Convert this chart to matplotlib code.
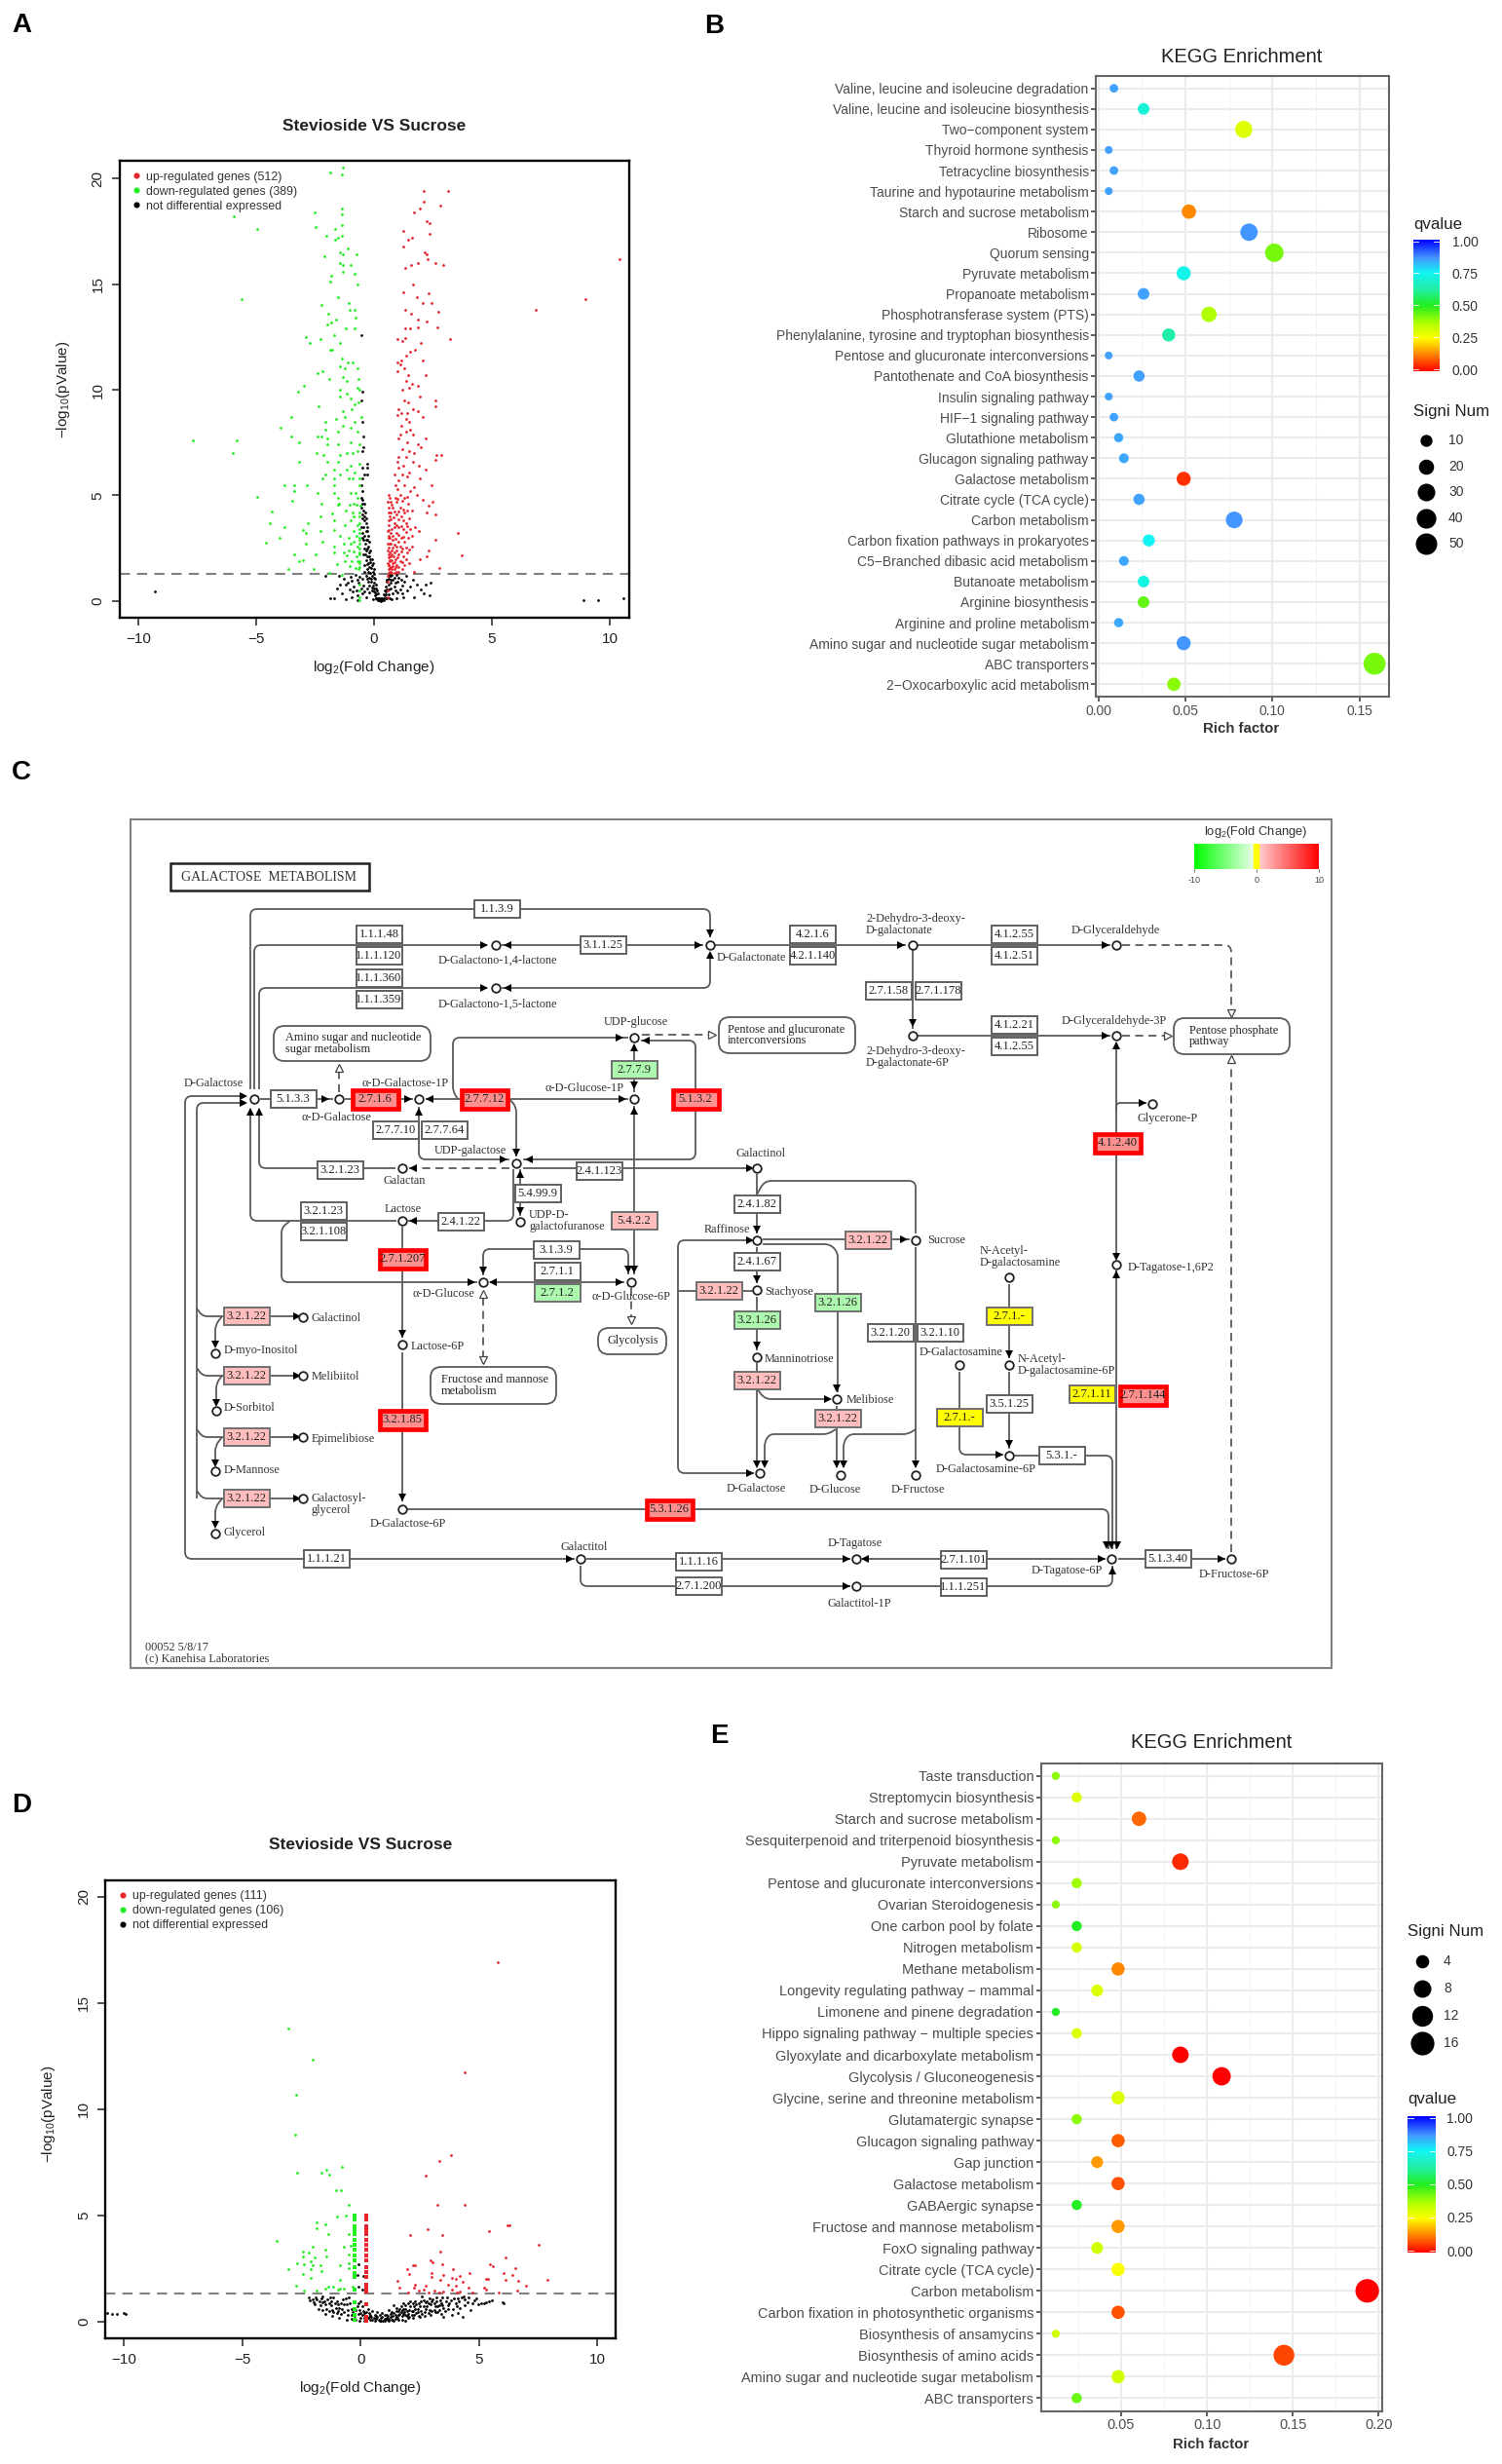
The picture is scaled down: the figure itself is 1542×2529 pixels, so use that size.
import matplotlib
matplotlib.use('Agg')
import matplotlib.pyplot as plt
import matplotlib.patches as patches
from matplotlib.path import Path
from matplotlib.colors import LinearSegmentedColormap
import numpy as np

plt.rcParams['font.family'] = ['Liberation Sans', 'DejaVu Sans']
plt.rcParams['mathtext.default'] = 'regular'

W, H = 1542, 2529

# ---- panel A volcano (log2 fold change, -log10 p)
a_up = [(2.11,19.4),(3.13,19.4),(2.11,18.9),(1.93,18.6),(2.83,18.7),(1.7,18.4),(2.24,18.0),(2.35,17.9),(1.25,17.5),(2.35,17.4),
 (1.61,17.2),(1.43,17.1),(1.25,16.8),(2.15,16.5),(2.24,16.4),(2.27,16.2),(1.88,16.0),(2.6,16.0),(2.92,15.9),(1.56,15.9),
 (1.31,15.75),(10.4,16.2),(1.65,15.0),(1.25,14.6),(2.33,14.55),(1.83,14.4),(2.06,14.1),(2.45,14.1),(1.34,13.8),(6.86,13.8),
 (8.95,14.3),(1.56,13.6),(2.74,13.7),(1.88,13.3),(2.24,13.25),(1.34,12.9),(1.52,12.9),(1.84,12.95),(2.69,12.95),(0.98,12.4),
 (1.31,12.45),(3.24,12.4),(1.2,12.3),(2.0,12.2),(1.55,11.8),(1.75,11.9),(1.35,11.6),(1.15,11.4),(2.05,11.4),(0.98,11.3),
 (1.1,11.2),(1.3,11.0),(1.0,10.9),(2.2,10.7),(1.45,10.7),(1.35,10.4),(1.6,10.3),(1.85,10.2),(1.5,10.1),(1.2,10.0),
 (1.95,9.7),(2.6,9.5),(1.3,9.5),(1.45,9.4),(2.6,9.2),(1.05,9.1),(1.65,9.1),(1.85,9.0),(1.15,8.9),(1.4,8.9),
 (0.98,8.8),(2.05,8.7),(1.35,8.6),(1.5,8.5),(1.15,8.3),(1.55,8.1),(1.35,8.0),(1.1,7.9),(1.65,7.9),(1.05,7.7),
 (2.2,7.7),(1.4,7.5),(1.85,7.4),(2.0,7.3),(1.2,7.2),(1.5,7.1),(1.7,7.0),(2.65,6.9),(2.85,6.9),(1.05,6.8),
 (1.35,6.8),(2.6,6.7),(0.98,6.6),(1.65,6.6),(1.9,6.4),(1.25,6.4),(1.05,6.3),(1.5,6.1),(2.2,6.2),(0.85,6.0),
 (1.2,6.0),(1.4,5.9),(1.95,5.8),(1.05,5.7),(0.9,5.5),(1.3,5.5),(1.7,5.4),(2.45,5.5),(1.0,5.3),(1.55,5.2),
 (0.6,5.0),(0.65,4.9),(1.1,5.0),(1.8,5.0),(1.3,4.9),(2.05,4.8),(2.5,4.7),(0.95,4.7),(1.45,4.6),(2.3,4.5),
 (0.6,4.4),(0.8,4.4),(1.1,4.4),(1.6,4.3),(1.3,4.2),(2.25,4.2),(0.95,4.1),(2.6,4.1),(0.65,4.0),(1.15,4.0),
 (1.5,3.9),(0.85,3.7),(1.35,3.7),(0.6,3.6),(1.05,3.5),(1.75,3.5),(0.75,3.4),(1.25,3.4),(1.55,3.4),(1.9,3.3),
 (0.95,3.2),(0.6,3.1),(1.15,3.0),(1.45,3.0),(3.55,3.2),(0.8,2.9),(2.6,2.9),(1.05,2.8),(1.3,2.8),(0.65,2.7),
 (0.95,2.6),(1.6,2.6),(1.2,2.5),(2.3,2.4),(0.75,2.4),(0.85,2.3),(1.4,2.3),(0.6,2.2),(1.05,2.2),(0.7,2.1),
 (1.25,2.1),(3.7,2.15),(2.25,2.1),(0.9,2.0),(1.95,2.0),(0.65,1.9),(1.1,1.9),(0.8,1.8),(0.95,1.7),(1.5,1.8),
 (0.7,1.6),(0.6,1.5),(0.85,1.5),(1.2,1.5),(2.75,1.55),(0.65,1.4),(0.75,1.35),(0.95,1.4),(1.7,1.4),(0.58,0.9),
 (0.58,0.5),(0.58,0.2),(0.58,1.2),(0.58,3.3),(0.58,2.7),(0.58,2.4),(0.58,1.8),(0.58,4.7),(0.62,3.0),(0.62,1.7),
 (0.7,4.7),(0.75,4.55),(0.9,4.9),(1.0,4.85),(1.2,4.75),(1.4,4.95),(0.72,4.2),(0.88,4.25),(1.02,4.25),(1.22,4.35),
 (1.4,4.3),(0.7,3.85),(0.82,3.95),(1.02,3.85),(1.25,3.8),(1.42,3.55),(0.62,3.35),(0.85,3.5),(0.95,3.6),(1.15,3.55),
 (1.35,3.25),(0.7,3.2),(0.8,3.1),(1.05,3.15),(1.25,3.05),(1.6,3.1),(0.68,3.0),(0.92,2.95),(1.35,2.55),(0.72,2.7),
 (0.85,2.65),(1.1,2.6),(1.5,2.45),(0.62,2.55),(0.78,2.55),(0.95,2.4),(1.15,2.35),(0.66,2.3),(0.75,2.2),(0.82,2.1),
 (1.0,2.05),(1.35,2.0),(0.6,2.05),(0.68,1.95),(0.75,1.95),(0.88,1.85),(1.2,1.85),(0.62,1.7),(0.78,1.65),(0.9,1.6),
 (1.05,1.6),(1.3,1.7),(0.66,1.55),(0.74,1.5),(0.6,1.35),(0.7,1.4),(0.85,1.35),(1.05,1.4),(0.62,3.8),(0.62,4.2)]

a_down = [(-1.34,20.5),(-1.84,20.3),(-1.38,20.2),(-5.94,18.2),(-2.52,18.4),(-1.38,18.6),(-1.38,18.3),(-1.38,17.8),(-2.47,17.7),(-1.65,17.6),
 (-4.96,17.6),(-1.38,17.3),(-2.02,17.3),(-1.52,17.2),(-1.67,17.1),(-1.13,16.7),(-1.45,16.5),(-1.34,16.4),(-0.75,16.4),(-2.09,16.3),
 (-1.43,16.0),(-0.98,15.9),(-1.34,15.9),(-1.83,15.4),(-1.31,15.6),(-0.81,15.5),(-1.88,15.1),(-0.72,15.0),(-2.24,14.0),(-1.52,14.4),
 (-5.64,14.3),(-1.07,14.1),(-1.93,13.6),(-1.02,13.8),(-0.84,13.8),(-0.8,13.4),(-1.62,13.3),(-1.8,13.2),(-1.97,13.1),(-1.2,12.9),
 (-0.84,12.9),(-2.88,12.5),(-2.74,12.2),(-1.7,12.6),(-2.27,12.4),(-1.43,12.2),(-1.88,11.9),(-1.79,11.9),(-1.38,11.5),(-1.13,11.3),
 (-0.9,11.3),(-1.43,11.1),(-1.25,11.0),(-0.72,11.0),(-2.4,10.8),(-2.2,10.9),(-1.9,10.5),(-1.34,10.6),(-1.16,10.4),(-0.66,10.5),
 (-2.97,10.2),(-3.22,9.9),(-0.7,10.1),(-0.63,10.0),(-1.43,10.0),(-1.16,9.8),(-1.43,9.7),(-0.98,9.6),(-2.34,9.2),(-0.66,9.4),
 (-0.81,9.3),(-0.95,9.1),(-1.34,9.0),(-3.5,8.7),(-2.05,8.5),(-1.61,8.6),(-1.25,8.7),(-0.81,8.5),(-0.54,8.7),(-3.98,8.2),
 (-2.05,8.1),(-2.4,7.8),(-0.98,8.2),(-1.31,8.3),(-3.5,7.8),(-2.24,7.8),(-1.97,7.7),(-1.52,8.0),(-0.72,8.0),(-7.7,7.6),
 (-5.84,7.6),(-3.2,7.5),(-1.97,7.4),(-1.52,7.4),(-0.98,7.5),(-0.63,7.4),(-6.0,7.0),(-2.45,7.0),(-2.14,6.9),(-1.43,6.9),
 (-0.9,7.0),(-1.16,7.0),(-0.7,7.1),(-3.2,6.6),(-1.97,6.6),(-1.52,6.6),(-0.63,6.5),(-0.98,6.4),(-1.16,6.2),(-1.7,6.2),
 (-2.05,6.0),(-0.81,6.1),(-1.43,6.0),(-2.2,5.8),(-1.7,5.8),(-0.63,5.8),(-0.9,5.8),(-1.07,5.8),(-3.8,5.5),(-3.4,5.5),
 (-2.84,5.5),(-1.7,5.5),(-0.63,5.5),(-3.38,5.2),(-2.4,5.1),(-1.7,5.1),(-0.98,5.1),(-0.8,5.1),(-4.97,4.95),(-1.52,4.9),
 (-3.47,4.75),(-1.48,4.6),(-0.75,4.55),(-1.02,4.55),(-1.52,4.55),(-2.25,4.6),(-4.35,4.25),(-2.27,4.0),(-1.79,4.15),(-0.9,4.2),
 (-0.63,4.2),(-4.42,3.7),(-2.8,3.7),(-1.7,3.8),(-0.98,3.8),(-3.8,3.5),(-3.0,3.35),(-2.27,3.3),(-1.7,3.35),(-0.63,3.4),
 (-4.0,3.0),(-2.9,3.2),(-1.45,3.1),(-1.07,3.0),(-0.63,3.0),(-4.6,2.75),(-2.9,2.7),(-2.2,2.8),(-1.7,2.6),(-0.98,2.7),
 (-0.63,2.5),(-3.4,2.2),(-3.2,1.9),(-3.0,1.95),(-2.5,2.2),(-1.7,2.3),(-1.07,2.4),(-0.63,2.2),(-3.65,1.5),(-2.55,1.5),
 (-1.9,1.35),(-1.25,1.9),(-0.63,1.8),(-0.67,1.5),(-1.36,1.25),(-0.6,1.9),(-0.6,3.7),(-0.6,2.9),(-0.58,4.5),(-0.6,0.8),
 (-0.6,0.5),(-0.6,0.2),(-0.6,0.05),(-0.62,4.0),(-0.6,3.2),(-0.6,2.7),(-0.6,2.3),(-0.62,1.6),(-0.85,4.6),(-0.72,4.9),
 (-0.85,4.0),(-1.2,4.3),(-0.72,3.6),(-0.85,3.3),(-1.25,3.6),(-0.75,3.1),(-0.85,2.8),(-1.3,2.7),(-0.72,2.6),(-0.88,2.35),
 (-1.15,2.15),(-0.75,2.1),(-0.95,1.9),(-0.7,1.9),(-1.05,1.65),(-0.78,1.55),(-1.55,1.75),(-1.3,2.3)]

a_none = [(-9.3,0.45),(8.9,0.05),(9.5,0.03),(10.6,0.12),(-0.55,12.6),(-0.5,9.9),(-0.55,9.5),(-0.5,8.5),(-0.45,7.8),(-0.45,7.3),
 (-0.5,7.1),(-0.3,6.5),(-0.3,6.3),(-0.3,6.0),(-0.4,6.0),(-0.5,6.3),(-0.5,5.8),(-0.55,5.5),(-0.5,5.2),(-0.55,4.9),
 (-0.5,4.6),(-0.45,4.3),(-0.4,4.0),(-0.5,3.9),(-0.35,3.7),(-0.45,3.5),(-0.3,3.3),(-0.4,3.1),(-0.28,2.9),(-0.38,2.7),
 (-0.25,2.6),(-0.33,2.4),(-0.2,2.3),(-0.3,2.1),(-0.15,2.0),(-0.25,1.8),(-0.1,1.7),(-0.2,1.6),(-0.05,1.4),(-0.3,1.5),
 (-0.45,2.2),(-0.5,3.0),(-0.42,1.7),(-0.35,1.2),(-0.2,1.1),(-0.1,1.2),(-0.02,1.1),(-0.25,0.9),(-0.12,0.9),(-0.02,0.85),
 (0.0,0.6),(0.05,0.4),(0.1,0.3),(0.15,0.15),(0.2,0.05),(0.25,0.02),(0.3,0.05),(0.35,0.15),(0.4,0.3),(0.45,0.5),
 (0.5,0.7),(0.55,1.0),(0.6,1.2),(0.08,0.15),(0.12,0.08),(0.18,0.02),(0.3,0.01),(0.38,0.08),(0.42,0.12),(0.5,0.3),
 (0.55,0.55),(0.62,0.8),(0.7,1.0),(0.75,1.25),(0.85,1.1),(0.95,1.25),(0.7,0.6),(0.85,0.7),(1.0,0.9),(0.8,0.35),
 (1.1,0.55),(1.25,0.2),(1.2,0.75),(1.65,1.0),(1.8,0.8),(2.0,0.55),(2.2,0.8),(2.35,0.25),(2.4,0.85),(1.7,0.2),
 (0.75,0.1),(0.95,0.15),(-0.1,0.5),(-0.2,0.4),(-0.3,0.6),(-0.35,0.2),(-0.45,0.75),(-0.5,0.35),(-0.7,1.0),(-0.75,0.5),
 (-0.85,0.7),(-0.95,0.95),(-1.05,0.55),(-1.2,0.8),(-1.35,0.35),(-1.45,0.8),(-1.55,0.6),(-1.7,0.15),(-1.85,0.15),(-1.2,0.1),
 (-0.95,0.2),(-0.72,0.05),(-2.05,1.2),(-1.5,1.2),(-0.8,1.25),(1.4,0.5),(1.55,0.7),(2.1,0.35),(0.62,0.3),(-0.05,0.1),
 (-0.48,4.8),(-0.42,4.6),(-0.52,4.4),(-0.38,4.2),(-0.48,4.1),(-0.32,3.9),(-0.42,3.8),(-0.28,3.5),(-0.52,3.5),(-0.35,3.3),
 (-0.48,3.2),(-0.25,3.1),(-0.33,2.9),(-0.45,2.9),(-0.22,2.8),(-0.42,2.5),(-0.28,2.5),(-0.15,2.4),(-0.38,2.2),(-0.22,2.1),
 (-0.1,2.0),(-0.35,1.95),(-0.18,1.85),(-0.05,1.8),(-0.3,1.75),(-0.12,1.55),(0.0,1.5),(-0.25,1.4),(-0.15,1.35),(0.02,1.3),
 (-0.4,1.4),(-0.3,1.05),(-0.12,1.05),(0.05,1.05),(-0.2,0.75),(-0.05,0.75),(0.08,0.8),(-0.1,0.65),(0.02,0.45),(0.07,0.6),
 (0.12,0.5),(0.17,0.35),(0.22,0.15),(0.04,0.25),(0.1,0.12),(0.25,0.08),(0.35,0.06),(0.45,0.25),(0.5,0.45),(0.52,0.9),
 (0.6,1.05),(0.65,1.25),(0.62,0.55),(0.7,0.85),(0.48,0.15),(0.4,0.05),(0.3,0.12),(0.2,0.12),(0.55,0.15),(0.65,0.15),
 (0.72,1.2),(0.8,1.0),(0.9,0.85),(0.9,0.5),(1.05,1.1),(1.15,1.0),(1.3,0.9),(1.35,1.2),(1.0,0.4),(1.2,0.35),
 (-0.4,0.45),(-0.55,0.6),(-0.65,0.85),(-0.5,1.05),(-0.7,0.25),(-0.9,0.45),(-1.1,0.85),(-1.3,1.05),(-0.6,1.15),(-1.0,1.15)]

# ---- panel D volcano
d_up = [(5.8,16.9),(4.38,11.75),(3.82,7.85),(3.34,7.55),(2.74,6.85),(3.25,5.5),(4.4,5.5),(6.2,4.55),(6.27,4.55),(5.4,4.25),
 (2.83,4.35),(2.1,4.05),(3.44,4.05),(7.5,3.6),(3.38,3.3),(6.1,3.0),(2.94,2.9),(3.05,2.8),(2.2,2.65),(2.3,2.65),
 (3.43,2.7),(5.45,2.7),(5.6,2.6),(6.55,2.5),(1.95,2.45),(3.9,2.45),(2.03,2.25),(3.0,2.3),(4.6,2.3),(6.05,2.3),
 (6.4,2.2),(3.5,2.2),(4.2,2.15),(2.98,2.1),(3.85,2.05),(4.0,2.0),(3.35,1.95),(5.3,2.0),(5.36,2.0),(7.9,1.95),
 (1.57,1.9),(6.1,1.95),(6.65,1.9),(4.3,1.85),(2.3,1.75),(2.75,1.7),(3.7,1.75),(4.0,1.7),(7.0,1.7),(1.65,1.6),
 (2.25,1.6),(4.55,1.6),(5.2,1.6),(2.45,1.45),(2.65,1.5),(3.1,1.45),(3.3,1.35),(3.85,1.5),(4.2,1.4),(5.3,1.5),
 (6.6,1.45),(5.85,1.35),(2.0,1.35),(2.85,1.35),(3.5,1.4),(4.05,1.35),(4.7,1.35)]
d_up_edge_x = 0.25
d_up_edge_y = [5.0,4.8,4.5,4.3,4.1,3.85,3.6,3.4,3.1,2.9,2.55,2.35,2.1,1.75,1.55,1.4,0.8,0.2,0.05]

d_down = [(-3.06,13.8),(-2.04,12.35),(-2.75,10.7),(-2.77,8.8),(-2.68,7.0),(-1.68,7.03),(-1.45,7.14),(-1.32,6.92),(-0.79,7.3),(-1.05,6.2),
 (-0.84,6.2),(-0.52,5.5),(-1.02,4.95),(-0.64,5.0),(-1.86,4.66),(-1.5,4.57),(-1.86,4.4),(-0.52,4.13),(-1.36,4.13),(-3.56,3.78),
 (-0.7,3.52),(-2.04,3.52),(-0.43,3.56),(-2.43,3.3),(-2.2,3.25),(-1.5,3.4),(-0.52,3.14),(-3.07,2.48),(-2.43,3.05),(-1.95,3.0),
 (-1.47,3.05),(-2.13,2.85),(-2.4,2.7),(-2.68,2.75),(-2.04,2.65),(-1.72,2.65),(-0.88,2.65),(-0.52,2.75),(-0.52,2.5),(-2.13,2.47),
 (-1.68,2.37),(-2.43,2.25),(-2.13,2.05),(-0.88,1.98),(-2.75,1.7),(-1.36,1.65),(-1.15,1.65),(-0.88,1.55),(-0.97,1.48),(-0.25,1.55),
 (-2.38,1.45),(-1.5,1.55),(-1.86,1.45),(-0.7,1.55),(-0.34,1.65)]
d_down_edge_x = -0.28
d_down_edge_y = [5.0,4.8,4.5,4.3,4.1,3.85,3.6,3.4,3.1,2.9,2.55,2.3,2.1,1.5,0.9,0.6,0.3,0.1]

d_none = [(-10.7,0.4),(-10.5,0.35),(-10.3,0.35),(-10.0,0.4),(-9.95,0.35),(-0.1,2.7),(-0.15,2.2),(0.1,2.15),(-0.1,1.65),(0.05,1.5),
 (-2.2,1.15),(-2.05,1.05),(-2.0,0.9),(-1.9,1.15),(-1.75,0.95),(-1.6,1.2),(-1.5,0.8),(-1.4,1.05),(-1.25,0.75),(-1.15,1.15),
 (-1.0,0.95),(-0.9,0.65),(-0.75,1.05),(-0.6,0.8),(-0.5,1.15),(-0.4,0.6),(-0.3,0.95),(-0.15,0.7),(0.0,0.95),(0.1,0.5),
 (-1.8,0.6),(-1.6,0.55),(-1.35,0.5),(-1.15,0.45),(-1.0,0.4),(-0.85,0.35),(-0.7,0.45),(-0.55,0.3),(-0.4,0.3),(-0.25,0.25),
 (-0.1,0.35),(0.05,0.3),(0.2,0.25),(0.35,0.4),(0.45,0.2),(0.55,0.15),(0.65,0.25),(0.75,0.08),(0.85,0.15),(0.95,0.05),
 (1.05,0.12),(1.15,0.06),(1.25,0.2),(1.35,0.1),(1.45,0.3),(1.55,0.15),(1.65,0.35),(1.75,0.1),(1.85,0.45),(1.95,0.25),
 (2.05,0.55),(2.15,0.3),(2.25,0.7),(2.35,0.4),(2.45,0.85),(2.55,0.5),(2.65,1.0),(2.75,0.6),(2.85,0.85),(2.95,0.3),
 (3.05,1.05),(3.15,0.7),(3.25,0.45),(3.35,1.0),(3.45,0.75),(3.55,0.5),(3.65,1.15),(3.75,0.85),(3.85,0.3),(3.95,1.1),
 (4.05,0.7),(4.15,0.95),(4.3,0.2),(4.35,1.2),(4.5,0.9),(4.65,0.55),(4.8,1.0),(4.95,0.8),(5.1,0.85),(5.4,0.95),
 (5.55,1.0),(6.0,0.9),(4.4,0.75),(3.2,1.15),(2.6,1.2),(2.1,0.95),(1.8,0.85),(1.5,0.65),(1.3,0.45),(1.1,0.3),
 (0.9,0.4),(0.7,0.45),(0.5,0.5),(0.3,0.6),(1.2,0.55),(1.4,0.75),(1.6,0.5),(1.9,0.6),(2.2,0.15),(2.4,0.6),
 (2.0,0.15),(2.7,0.25),(3.1,0.55),(3.5,0.2),(0.6,0.05),(0.8,0.03),(1.0,0.02),(1.2,0.03),(1.4,0.05),(0.4,0.08),
 (-0.2,0.1),(-0.4,0.12),(-0.6,0.1),(-0.9,0.15),(-1.2,0.25),(-1.5,0.35),(1.7,0.7),(2.3,0.95),(2.9,0.55),(3.3,0.75),
 (3.7,0.6),(4.1,0.4),(0.0,0.15),(0.15,0.05),(-0.05,0.05),(1.9,0.05),(2.2,0.5),(2.5,0.2),(2.8,0.95),(3.4,0.35),
 (-2.15,1.0),(-1.95,0.8),(-1.85,1.05),(-1.7,0.75),(-1.65,1.1),(-1.55,0.95),(-1.45,0.6),(-1.35,0.85),(-1.3,1.15),(-1.2,0.55),
 (-1.1,0.85),(-1.05,0.65),(-0.95,0.5),(-0.85,0.85),(-0.8,0.6),(-0.7,0.8),(-0.65,1.1),(-0.55,0.55),(-0.45,0.85),(-0.35,0.45),
 (-0.2,0.55),(-0.1,0.85),(-0.05,0.55),(0.05,0.7),(0.15,0.4),(0.15,0.15),(0.25,0.45),(0.3,0.15),(0.4,0.3),(0.5,0.08),
 (0.6,0.3),(0.65,0.12),(0.7,0.2),(0.8,0.3),(0.85,0.05),(0.9,0.22),(1.0,0.3),(1.0,0.12),(1.1,0.18),(1.2,0.12),
 (1.25,0.35),(1.3,0.08),(1.35,0.25),(1.4,0.4),(1.45,0.12),(1.5,0.5),(1.5,0.22),(1.6,0.3),(1.6,0.1),(1.65,0.6),
 (1.7,0.45),(1.75,0.25),(1.8,0.6),(1.8,0.35),(1.9,0.3),(1.9,0.75),(1.95,0.5),(2.0,0.85),(2.0,0.35),(2.05,0.2),
 (2.1,0.7),(2.15,0.5),(2.2,0.85),(2.25,0.3),(2.3,0.6),(2.35,0.8),(2.4,0.45),(2.45,0.25),(2.5,0.7),(2.55,0.95),
 (2.6,0.35),(2.65,0.7),(2.7,0.45),(2.75,0.9),(2.8,0.7),(2.85,0.4),(2.9,1.1),(2.95,0.8),(3.0,0.5),(3.0,0.95),
 (3.1,0.85),(3.15,0.45),(3.2,0.95),(3.25,0.7),(3.3,0.55),(3.4,0.85),(3.45,1.15),(3.5,0.65),(3.6,0.95),(3.7,0.75),
 (3.8,1.0),(3.9,0.6),(4.0,0.85),(4.1,1.1),(4.2,0.65),(4.25,1.15),(4.4,1.05),(4.55,1.15),(4.7,0.85),(4.9,1.1),
 (5.2,0.85),(5.3,0.9),(6.05,0.85),(-1.6,0.9),(-1.25,0.95),(-0.95,0.8),(0.0,0.4),(0.35,0.2),(1.15,0.25),(1.75,0.55)]

a_legend = ['up-regulated genes (512)', 'down-regulated genes (389)', 'not differential expressed']
d_legend = ['up-regulated genes (111)', 'down-regulated genes (106)', 'not differential expressed']

# ---- panel B dot plot
b_terms = ['Valine, leucine and isoleucine degradation', 'Valine, leucine and isoleucine biosynthesis', 'Two\u2212component system',
 'Thyroid hormone synthesis', 'Tetracycline biosynthesis', 'Taurine and hypotaurine metabolism', 'Starch and sucrose metabolism',
 'Ribosome', 'Quorum sensing', 'Pyruvate metabolism', 'Propanoate metabolism', 'Phosphotransferase system (PTS)',
 'Phenylalanine, tyrosine and tryptophan biosynthesis', 'Pentose and glucuronate interconversions', 'Pantothenate and CoA biosynthesis',
 'Insulin signaling pathway', 'HIF\u22121 signaling pathway', 'Glutathione metabolism', 'Glucagon signaling pathway', 'Galactose metabolism',
 'Citrate cycle (TCA cycle)', 'Carbon metabolism', 'Carbon fixation pathways in prokaryotes', 'C5\u2212Branched dibasic acid metabolism',
 'Butanoate metabolism', 'Arginine biosynthesis', 'Arginine and proline metabolism', 'Amino sugar and nucleotide sugar metabolism',
 'ABC transporters', '2\u2212Oxocarboxylic acid metabolism']
b_rich = [.009,.026,.0835,.006,.009,.006,.052,.0865,.101,.049,.026,.0635,.0404,.006,.0234,.006,.009,.0117,.0147,.049,.0234,.078,.029,.0147,.026,.026,.0117,.049,.1585,.0434]
b_num = [3,9,28,2,3,2,17,29,34,16,9,21,13,2,8,2,3,4,5,16,8,26,10,5,9,9,4,16,53,14]
b_q = [.85,.70,.30,.85,.85,.85,.13,.86,.42,.73,.85,.36,.63,.85,.85,.85,.85,.84,.84,.05,.85,.86,.75,.84,.72,.44,.84,.86,.42,.40]

# ---- panel E dot plot
e_terms = ['Taste transduction', 'Streptomycin biosynthesis', 'Starch and sucrose metabolism', 'Sesquiterpenoid and triterpenoid biosynthesis',
 'Pyruvate metabolism', 'Pentose and glucuronate interconversions', 'Ovarian Steroidogenesis', 'One carbon pool by folate', 'Nitrogen metabolism',
 'Methane metabolism', 'Longevity regulating pathway \u2212 mammal', 'Limonene and pinene degradation', 'Hippo signaling pathway \u2212 multiple species',
 'Glyoxylate and dicarboxylate metabolism', 'Glycolysis / Gluconeogenesis', 'Glycine, serine and threonine metabolism', 'Glutamatergic synapse',
 'Glucagon signaling pathway', 'Gap junction', 'Galactose metabolism', 'GABAergic synapse', 'Fructose and mannose metabolism', 'FoxO signaling pathway',
 'Citrate cycle (TCA cycle)', 'Carbon metabolism', 'Carbon fixation in photosynthetic organisms', 'Biosynthesis of ansamycins',
 'Biosynthesis of amino acids', 'Amino sugar and nucleotide sugar metabolism', 'ABC transporters']
e_rich = [.0119,.0241,.0604,.0119,.0845,.0241,.0119,.0241,.0241,.0482,.036,.0119,.0241,.0845,.1085,.0482,.0241,.0482,.036,.0482,.0241,.0482,.036,.0482,.1933,.0482,.0119,.1448,.0482,.0241]
e_num = [1,2,5,1,7,2,1,2,2,4,3,1,2,7,9,4,2,4,3,4,2,4,3,4,16,4,1,12,4,2]
e_q = [.40,.30,.10,.40,.04,.38,.40,.50,.31,.13,.30,.50,.30,.0,.0,.30,.40,.09,.15,.08,.50,.15,.32,.26,.0,.08,.32,.07,.32,.43]

q_ticks = [0.0, 0.25, 0.5, 0.75, 1.0]
q_labels = ['0.00', '0.25', '0.50', '0.75', '1.00']
b_sizes = [10, 20, 30, 40, 50]
e_sizes = [4, 8, 12, 16]

# ---- panel C pathway map, enzyme boxes (x, y, label, state)
enzymes = [(510,933,'1.1.3.9','n'),(389,959,'1.1.1.48','n'),(389,981,'1.1.1.120','n'),(389,1004,'1.1.1.360','n'),(389,1026,'1.1.1.359','n'),
 (619,970,'3.1.1.25','n'),(301,1128,'5.1.3.3','n'),(385,1128,'2.7.1.6','r'),(497,1128,'2.7.7.12','r'),(651,1098,'2.7.7.9','g'),
 (714,1128,'5.1.3.2','r'),(406,1160,'2.7.7.10','n'),(456,1160,'2.7.7.64','n'),(349,1201,'3.2.1.23','n'),(615,1202,'2.4.1.123','n'),
 (552,1225,'5.4.99.9','n'),(332,1243,'3.2.1.23','n'),(332,1264,'3.2.1.108','n'),(473,1254,'2.4.1.22','n'),(651,1253,'5.4.2.2','p'),
 (777,1236,'2.4.1.82','n'),(777,1295,'2.4.1.67','n'),(571,1283,'3.1.3.9','n'),(413,1292,'2.7.1.207','r'),(572,1305,'2.7.1.1','n'),
 (572,1327,'2.7.1.2','g'),(738,1325,'3.2.1.22','p'),(777,1355,'3.2.1.26','g'),(777,1417,'3.2.1.22','p'),(253,1351,'3.2.1.22','p'),
 (253,1412,'3.2.1.22','p'),(253,1475,'3.2.1.22','p'),(253,1538,'3.2.1.22','p'),(413,1457,'3.2.1.85','r'),(687,1549,'5.3.1.26','r'),
 (335,1600,'1.1.1.21','n'),(717,1603,'1.1.1.16','n'),(717,1628,'2.7.1.200','n'),(834,959,'4.2.1.6','n'),(834,981,'4.2.1.140','n'),
 (912,1017,'2.7.1.58','n'),(963,1017,'2.7.1.178','n'),(1041,959,'4.1.2.55','n'),(1041,981,'4.1.2.51','n'),(1041,1052,'4.1.2.21','n'),
 (1041,1074,'4.1.2.55','n'),(1147,1173,'4.1.2.40','r'),(891,1273,'3.2.1.22','p'),(860,1337,'3.2.1.26','g'),(914,1368,'3.2.1.20','n'),
 (965,1368,'3.2.1.10','n'),(1036,1351,'2.7.1.-','y'),(1121,1431,'2.7.1.11','y'),(1173,1432,'2.7.1.144','r'),(1036,1441,'3.5.1.25','n'),
 (985,1455,'2.7.1.-','y'),(860,1456,'3.2.1.22','p'),(1090,1494,'5.3.1.-','n'),(989,1601,'2.7.1.101','n'),(989,1629,'1.1.1.251','n'),
 (1199,1600,'5.1.3.40','n')]

compounds = [(261,1128),(348,1128),(430,1128),(651,1128),(651,1065),(509,970),(509,1014),(729,970),(530,1194),(413,1199),(777,1199),
 (534,1254),(413,1253),(777,1273),(496,1316),(648,1316),(777,1324),(777,1393),(780,1512),(413,1380),(413,1549),(311,1352),(221,1389),
 (311,1412),(222,1448),(311,1475),(221,1510),(311,1538),(221,1574),(596,1600),(937,970),(937,1063),(1146,970),(1146,1063),(1183,1133),
 (940,1273),(1146,1298),(1036,1311),(1036,1401),(985,1401),(1036,1494),(859,1436),(863,1514),(940,1514),(879,1600),(879,1628),(1141,1600),(1264,1600)]

solid_routes = [[(257,1118),(257,933),(729,933),(729,962)],[(261,1118),(261,970),(500,970)],[(266,1118),(266,1014),(500,1014)],
 [(515,970),(722,970)],[(515,1014),(729,1014),(729,978)],[(729,970),(930,970)],[(937,970),(1140,970)],[(937,970),(937,1056)],
 [(937,1063),(1140,1063)],[(1146,1291),(1146,1070)],[(1146,1140),(1146,1132),(1177,1132)],[(1146,1304),(1146,1590)],
 [(413,1549),(1138,1549),(1138,1590)],[(1036,1494),(1142,1494),(1142,1590)],[(250,1125),(190,1125),(190,1600),(590,1600)],
 [(250,1132),(202,1132),(202,1538)],[(202,1343),(208,1351),(253,1351)],[(202,1404),(208,1412),(253,1412)],[(202,1467),(208,1475),(253,1475)],
 [(202,1530),(208,1538),(253,1538)],[(253,1351),(305,1351)],[(253,1412),(305,1412)],[(253,1475),(305,1475)],[(253,1538),(305,1538)],
 [(228,1351),(221,1360),(221,1382)],[(228,1412),(222,1420),(222,1441)],[(228,1475),(221,1484),(221,1503)],[(228,1538),(221,1547),(221,1567)],
 [(266,1138),(266,1199),(406,1199)],[(257,1138),(257,1253),(407,1253)],[(430,1136),(430,1190),(523,1190)],[(537,1190),(714,1190),(714,1068),(658,1068)],
 [(470,1128),(465,1120),(465,1065),(645,1065)],[(437,1128),(645,1128)],[(354,1128),(424,1128)],[(267,1128),(342,1128)],[(651,1072),(651,1121)],
 [(651,1135),(651,1308)],[(523,1128),(530,1136),(530,1187)],[(534,1200),(534,1248)],[(527,1200),(527,1253),(419,1253)],[(537,1199),(771,1199)],
 [(413,1259),(413,1373)],[(413,1388),(413,1541)],[(496,1309),(496,1282),(645,1282),(645,1308)],[(503,1316),(641,1316)],
 [(298,1253),(289,1260),(289,1316),(490,1316)],[(777,1205),(777,1266)],[(777,1226),(785,1212),(940,1212),(940,1266)],[(783,1272),(934,1272)],
 [(783,1277),(852,1277),(860,1285),(860,1429)],[(771,1273),(696,1273),(696,1512),(774,1512)],[(696,1325),(777,1325)],[(777,1280),(777,1317)],
 [(777,1331),(777,1386)],[(777,1399),(777,1505)],[(777,1425),(785,1436),(852,1436)],[(858,1467),(850,1472),(790,1472),(785,1480),(785,1505)],
 [(940,1467),(932,1472),(872,1472),(866,1480),(866,1506)],[(859,1443),(859,1506)],[(940,1280),(940,1506)],[(1036,1318),(1036,1394)],
 [(1036,1408),(1036,1487)],[(985,1408),(985,1493),(1030,1493)],[(596,1607),(596,1628),(873,1628)],[(602,1600),(873,1600)],[(885,1600),(1135,1600)],
 [(885,1628),(1142,1628),(1142,1607)],[(1148,1600),(1258,1600)]]

dashed_routes = [[(1152,970),(1264,970),(1264,1040)],[(1152,1063),(1200,1063)],[(1264,1593),(1264,1090)],[(348,1121),(348,1095)],
 [(659,1062),(731,1062)],[(420,1199),(523,1199)],[(496,1332),(496,1396)],[(648,1322),(648,1355)]]

heads_right = [(497,970),(497,1014),(717,970),(925,970),(1135,970),(1135,1063),(1173,1132),(334,1128),(419,1128),(639,1128),(636,1065),(517,1190),
 (250,1125),(250,1132),(305,1351),(305,1412),(305,1475),(305,1538),(484,1316),(636,1316),(770,1199),(770,1273),(770,1512),(928,1272),(850,1436),
 (1026,1493),(585,1600),(869,1600),(869,1628),(1131,1600),(1254,1600)]
heads_left = [(521,970),(521,1014),(441,1128),(663,1068),(543,1190),(424,1199),(424,1253),(506,1316),(888,1600)]
heads_up = [(729,980),(1146,1073),(1146,1308),(257,1141),(266,1141),(430,1141),(651,1075),(651,1140),(534,1205),(1142,1612)]
heads_down = [(729,958),(937,1050),(1146,1290),(1136,1586),(1141,1586),(1147,1586),(221,1380),(222,1440),(221,1502),(221,1565),(530,1183),(534,1243),
 (651,1114),(413,1369),(413,1537),(496,1304),(645,1303),(651,1303),(777,1262),(777,1313),(777,1381),(859,1425),(777,1503),(785,1503),(859,1503),(866,1503),
 (940,1503),(1036,1390),(1036,1482)]
open_heads = [(1264,1040,'v'),(1199,1063,'>'),(1264,1087,'^'),(348,1096,'^'),(731,1062,'>'),(496,1396,'v'),(648,1355,'v'),(496,1328,'^')]

path_labels = [(450,986,'D-Galactono-1,4-lactone'),(450,1031,'D-Galactono-1,5-lactone'),(736,983,'D-Galactonate'),(620,1049,'UDP-glucose'),
 (189,1112,'D-Galactose'),(371,1112,'\u03b1-D-Galactose-1P'),(310,1147,'\u03b1-D-Galactose'),(559,1117,'\u03b1-D-Glucose-1P'),(446,1181,'UDP-galactose'),
 (393,1212,'Galactan'),(395,1241,'Lactose'),(543,1253,'UDP-D-\ngalactofuranose'),(756,1184,'Galactinol'),(723,1262,'Raffinose'),(952,1273,'Sucrose'),
 (889,949,'2-Dehydro-3-deoxy-\nD-galactonate'),(889,1085,'2-Dehydro-3-deoxy-\nD-galactonate-6P'),(1100,955,'D-Glyceraldehyde'),(1090,1048,'D-Glyceraldehyde-3P'),
 (1167,1148,'Glycerone-P'),(1006,1290,'N-Acetyl-\nD-galactosamine'),(1158,1301,'D-Tagatose-1,6P2'),(785,1326,'Stachyose'),(785,1395,'Manninotriose'),
 (944,1388,'D-Galactosamine'),(1045,1401,'N-Acetyl-\nD-galactosamine-6P'),(869,1437,'Melibiose'),(961,1508,'D-Galactosamine-6P'),(746,1528,'D-Galactose'),
 (831,1529,'D-Glucose'),(915,1529,'D-Fructose'),(850,1584,'D-Tagatose'),(575,1588,'Galactitol'),(1059,1612,'D-Tagatose-6P'),(1231,1616,'D-Fructose-6P'),
 (850,1646,'Galactitol-1P'),(424,1328,'\u03b1-D-Glucose'),(607,1331,'\u03b1-D-Glucose-6P'),(422,1382,'Lactose-6P'),(320,1353,'Galactinol'),(230,1386,'D-myo-Inositol'),
 (320,1413,'Melibiitol'),(230,1445,'D-Sorbitol'),(320,1477,'Epimelibiose'),(230,1509,'D-Mannose'),(320,1544,'Galactosyl-\nglycerol'),(230,1573,'Glycerol'),
 (380,1564,'D-Galactose-6P'),(149,1697,'00052 5/8/17\n(c) Kanehisa Laboratories')]

pathway_maps = [(281,1053,442,1089,'Amino sugar and nucleotide\nsugar metabolism',293),(738,1044,878,1081,'Pentose and glucuronate\ninterconversions',747),
 (1205,1045,1324,1082,'Pentose phosphate\npathway',1221),(442,1403,571,1441,'Fructose and mannose\nmetabolism',453),(614,1363,684,1390,'Glycolysis',623)]

state_fill = {'n':'white','r':'#FF9090','g':'#AEF7AE','p':'#FFBDBD','y':'#FFFF00'}
state_edge = {'n':'#606060','r':'#FF0000','g':'#707070','p':'#707070','y':'#707070'}

qmap = LinearSegmentedColormap.from_list('q', [(0,'#FF0000'),(.13,'#FF8800'),(.25,'#FFFF00'),(.37,'#AAFF00'),(.5,'#22EE22'),(.63,'#22EEAA'),(.75,'#11F5F5'),(.86,'#4499FF'),(1,'#0000FF')])

fig = plt.figure(figsize=(W/100, H/100), dpi=100, facecolor='white')


def px_axes(l, t, r, b):
    return fig.add_axes([l/W, 1-b/H, (r-l)/W, (b-t)/H])


# overlay in picture pixels for the pathway map and the free text
ov = fig.add_axes([0, 0, 1, 1], zorder=5)
ov.set_xlim(0, W)
ov.set_ylim(H, 0)
ov.axis('off')
ov.patch.set_alpha(0)


def volcano(box, xlim, ylim, up, down, none, legend):
    ax = px_axes(*box)
    for pts, col in [(none, 'black'), (down, '#22EE22'), (up, '#E8242C')]:
        xs, ys = zip(*pts)
        ax.scatter(xs, ys, s=4, c=col, linewidths=0, zorder=3)
    ax.axhline(1.3, color='#808080', lw=1.5, dashes=(5, 3.5), zorder=2)
    ax.set_xlim(*xlim)
    ax.set_ylim(*ylim)
    ax.set_xticks([-10, -5, 0, 5, 10], ['\u221210', '\u22125', '0', '5', '10'])
    ax.set_yticks([0, 5, 10, 15, 20], ['0', '5', '10', '15', '20'], rotation=90, va='center')
    ax.tick_params(length=6, width=1.1, labelsize=11, colors='#222222', pad=5)
    for s in ax.spines.values():
        s.set_linewidth(1.7)
    handles = [plt.Line2D([], [], ls='', marker='o', ms=3.4, color=c) for c in ['#E8242C', '#22EE22', 'black']]
    ax.legend(handles, legend, loc='upper left', frameon=False, fontsize=8.9, labelcolor='#333333',
              borderaxespad=0, borderpad=0.85, labelspacing=0.24, handletextpad=0.25, handlelength=1.1)
    return ax


ax_a = volcano((122.7, 165.2, 646, 633.8), (-10.8, 10.83), (-0.78, 20.83), a_up, a_down, a_none, a_legend)
ax_d = volcano((108.4, 1929.5, 632, 2399.7), (-10.78, 10.77), (-0.78, 20.8), d_up, d_down, d_none, d_legend)
ax_d.scatter([d_up_edge_x]*len(d_up_edge_y), d_up_edge_y, s=11, c='#E8242C', marker='s', linewidths=0, zorder=4)
ax_d.scatter([d_down_edge_x]*len(d_down_edge_y), d_down_edge_y, s=11, c='#22EE22', marker='s', linewidths=0, zorder=4)

ov.text(384, 129, 'Stevioside VS Sucrose', ha='center', va='center', fontsize=12.5, fontweight='bold', color='#222222')
ov.text(370, 1893, 'Stevioside VS Sucrose', ha='center', va='center', fontsize=12.5, fontweight='bold', color='#222222')
ov.text(384, 685, r'log$_2$(Fold Change)', ha='center', va='center', fontsize=11, color='#222222')
ov.text(370, 2451, r'log$_2$(Fold Change)', ha='center', va='center', fontsize=11, color='#222222')
ov.text(65, 400, '\u2212log$_{10}$(pValue)', ha='center', va='center', rotation=90, fontsize=11, color='#222222')
ov.text(50, 2170, '\u2212log$_{10}$(pValue)', ha='center', va='center', rotation=90, fontsize=11, color='#222222')


def q_bar(l, t, r, b, ty, labx):
    cb = px_axes(l, t, r, b)
    cb.imshow(np.linspace(1, 0, 256).reshape(-1, 1), cmap=qmap, vmin=0, vmax=1, aspect='auto', extent=(0, 1, -0.012, 1.012))
    cb.set_xticks([])
    cb.set_yticks(q_ticks)
    cb.yaxis.tick_right()
    cb.set_yticklabels(q_labels)
    cb.tick_params(axis='y', length=0, labelsize=10, labelcolor='#333333', pad=labx - r)
    for v in q_ticks:
        cb.plot([0, .2], [v, v], color='white', lw=.6)
        cb.plot([.8, 1], [v, v], color='white', lw=.6)
    cb.set_xlim(0, 1)
    for s in cb.spines.values():
        s.set_visible(False)
    ov.text(l, ty, 'qvalue', ha='left', va='center', fontsize=12.2, color='#222222')


def dotplot(box, xlim, xticks, xlabels, minor, terms, rich, num, q, size_a, size_b, fs):
    ax = px_axes(*box)
    ypos = np.arange(len(terms))[::-1]
    diam = size_a + size_b*np.sqrt(np.array(num))
    ax.scatter(rich, ypos, s=(diam/1.389)**2, c=q, cmap=qmap, vmin=0, vmax=1, linewidths=0, zorder=3)
    ax.set_xlim(*xlim)
    ax.set_ylim(-0.6, len(terms) - 0.4)
    ax.set_yticks(ypos, terms)
    ax.set_xticks(xticks, xlabels)
    ax.set_xticks(minor, minor=True)
    ax.grid(True, which='major', color='#EBEBEB', lw=1.5, zorder=0)
    ax.grid(True, which='minor', axis='x', color='#F2F2F2', lw=0.8, zorder=0)
    ax.set_axisbelow(True)
    ax.tick_params(axis='both', which='major', length=3.5, width=1.1, color='#333333', labelsize=fs, labelcolor='#4D4D4D', pad=2)
    ax.tick_params(axis='x', which='minor', length=0)
    for s in ax.spines.values():
        s.set_color('#666666')
        s.set_linewidth(1.5)
    return ax


ax_b = dotplot((1125.3, 78, 1425.6, 715), (-0.00123, 0.1666), [0, .05, .1, .15], ['0.00', '0.05', '0.10', '0.15'], [.025, .075, .125],
               b_terms, b_rich, b_num, b_q, 4.5, 2.48, 10)
ax_e = dotplot((1069, 1809.5, 1418.6, 2474.6), (0.00346, 0.2018), [.05, .1, .15, .2], ['0.05', '0.10', '0.15', '0.20'], [.025, .075, .125, .175],
               e_terms, e_rich, e_num, e_q, 3, 5.3, 10.45)

ov.text(1274.6, 59, 'KEGG Enrichment', ha='center', va='center', fontsize=14.5, color='#222222')
ov.text(1243.5, 1789, 'KEGG Enrichment', ha='center', va='center', fontsize=14.5, color='#222222')
ov.text(1274.6, 748, 'Rich factor', ha='center', va='center', fontsize=10.8, fontweight='bold', color='#333333')
ov.text(1243.5, 2509, 'Rich factor', ha='center', va='center', fontsize=10.8, fontweight='bold', color='#333333')

q_bar(1450.8, 246, 1477.7, 380.6, 230, 1487)
q_bar(1445.4, 2172, 1474, 2311.7, 2155, 1482)

ov.text(1450.8, 422, 'Signi Num', ha='left', va='center', fontsize=12.2, color='#222222')
for n, yy in zip(b_sizes, [452, 479, 505, 532, 558]):
    ov.scatter([1464], [yy], s=((4.5 + 2.48*np.sqrt(n))/1.389)**2, c='black', linewidths=0)
    ov.text(1487, yy, str(n), ha='left', va='center', fontsize=10, color='#333333')
ov.text(1445.4, 1982, 'Signi Num', ha='left', va='center', fontsize=12.2, color='#222222')
for n, yy in zip(e_sizes, [2013, 2041, 2069, 2097]):
    ov.scatter([1460], [yy], s=((3 + 5.3*np.sqrt(n))/1.389)**2, c='black', linewidths=0)
    ov.text(1482, yy, str(n), ha='left', va='center', fontsize=10, color='#333333')

for letter, lx, ly in [('A', 22, 26), ('B', 733, 27), ('C', 22, 793), ('D', 22, 1853), ('E', 738, 1782)]:
    ov.text(lx, ly, letter, ha='center', va='center', fontsize=20, fontweight='bold', color='black')


# ---- panel C
def route(pts, dashed=False, r=7):
    verts = [pts[0]]
    codes = [Path.MOVETO]
    for i in range(1, len(pts) - 1):
        p, q, s = [np.array(v, float) for v in pts[i-1:i+2]]
        u1 = (q - p)/np.hypot(*(q - p))
        u2 = (s - q)/np.hypot(*(s - q))
        rr = min(r, np.hypot(*(q - p))/2, np.hypot(*(s - q))/2)
        verts += [tuple(q - u1*rr), tuple(q), tuple(q + u2*rr)]
        codes += [Path.LINETO, Path.CURVE3, Path.CURVE3]
    verts.append(pts[-1])
    codes.append(Path.LINETO)
    ov.add_patch(patches.PathPatch(Path(verts, codes), fc='none', ec='#5A5A5A', lw=1.3,
                                   ls=(0, (4.5, 3)) if dashed else '-', zorder=2))


ov.add_patch(patches.Rectangle((134, 841), 1233, 871, fc='white', ec='#808080', lw=1.5, zorder=1))
ov.add_patch(patches.Rectangle((175, 886), 203.5, 28, fc='white', ec='#222222', lw=1.8, zorder=3))
ov.text(276, 900, 'GALACTOSE  METABOLISM', family='Liberation Serif', ha='center', va='center', fontsize=10, color='#333333', zorder=6)

for r_pts in solid_routes:
    route(r_pts)
for r_pts in dashed_routes:
    route(r_pts, dashed=True)

for pts, m in [(heads_right, '>'), (heads_left, '<'), (heads_up, '^'), (heads_down, 'v')]:
    xs, ys = zip(*pts)
    ov.plot(xs, ys, ls='', marker=m, ms=6, color='black', mew=0, zorder=3)
for hx, hy, m in open_heads:
    ov.plot([hx], [hy], ls='', marker=m, ms=5.5, mfc='white', mec='#444444', mew=0.9, zorder=3)

xs, ys = zip(*compounds)
ov.plot(xs, ys, ls='', marker='o', ms=6.2, mfc='white', mec='#222222', mew=1.3, zorder=4)

for ex, ey, name, state in enzymes:
    red = state == 'r'
    bw, bh = (47, 19) if red else (47, 18)
    ov.add_patch(patches.Rectangle((ex - bw/2, ey - bh/2), bw, bh, fc=state_fill[state], ec=state_edge[state],
                                   lw=3.4 if red else 1.4, zorder=5))
    ov.text(ex, ey, name, family='Liberation Serif', ha='center', va='center', fontsize=9,
            color='#222222', zorder=6)

for l, t, r, b, name, tx in pathway_maps:
    ov.add_patch(patches.FancyBboxPatch((l + 8, t + 8), r - l - 16, b - t - 16, boxstyle='round,pad=8,rounding_size=11',
                                        fc='white', ec='#5A5A5A', lw=1.3, zorder=3))
    ov.text(tx, (t + b)/2, name, family='Liberation Serif', ha='left', va='center', fontsize=8.8, color='#222222', linespacing=0.95, zorder=6)

for tx, ty, name in path_labels:
    ov.text(tx, ty, name, family='Liberation Serif', ha='left', va='center', fontsize=8.8, color='#333333', linespacing=0.95, zorder=6)

# fold change key of the map
key = px_axes(1226, 865.7, 1354, 891.7)
key.set_zorder(6)
key_map = LinearSegmentedColormap.from_list('fc', [(0, '#00FF00'), (.47, '#E5FFE5'), (.48, '#FFFF00'), (.52, '#FFFF00'), (.53, '#FFC8C8'), (1, '#FF0000')])
key.imshow(np.linspace(-10, 10, 256).reshape(1, -1), cmap=key_map, vmin=-10, vmax=10, aspect='auto', extent=(-10, 10, 0, 1))
key.set_yticks([])
key.set_xticks([-10, 0, 10], ['-10', '0', '10'])
key.tick_params(axis='x', length=2.5, width=0.7, color='#666666', labelsize=6.5, labelcolor='#444444', pad=3)
for s in key.spines.values():
    s.set_visible(False)
ov.text(1289, 854, r'log$_2$(Fold Change)', ha='center', va='center', fontsize=9.3, color='#333333', zorder=6)

fig.savefig('out.png', dpi=100)
